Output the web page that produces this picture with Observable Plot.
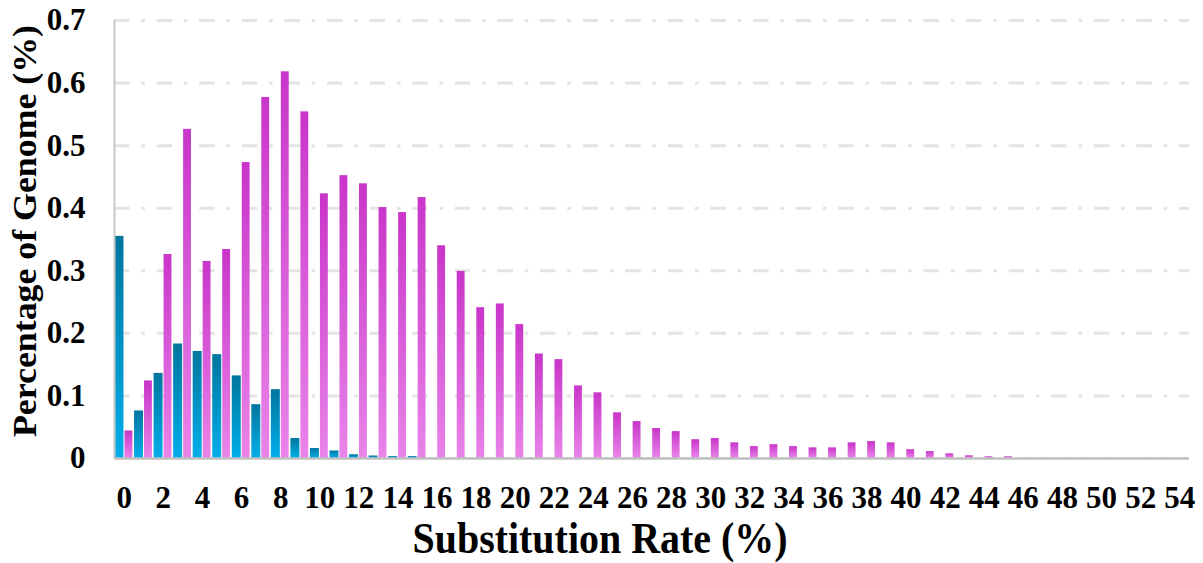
<!DOCTYPE html>
<html><head><meta charset="utf-8">
<script src="https://cdn.jsdelivr.net/npm/d3@7"></script>
<script src="https://cdn.jsdelivr.net/npm/@observablehq/plot@0.6"></script>
<style>body{margin:0;background:#fff;}</style>
</head><body><div id="chart"></div>
<script>
// Categories: substitution rate (%)
const rates = [0,1,2,3,4,5,6,7,8,9,10,11,12,13,14,15,16,17,18,19,20,21,22,23,24,25,26,27,28,29,30,31,32,33,34,35,36,37,38,39,40,41,42,43,44,45,46,47,48,49,50,51,52,53,54];
// Blue series (left bar in each group)
const blueValues = [0.355,0.076,0.136,0.183,0.171,0.166,0.132,0.086,0.110,0.032,0.016,0.012,0.006,0.004,0.003,0.003,0.0003,0.0003,0.0003,0.0003,0.0003,0.0003,0.0003,0.0003,0.0003,0.0003,0.0003,0.0003,0.0003,0.0003,0.0003,0.0003,0,0,0,0,0,0,0,0,0,0,0,0,0,0,0,0,0,0,0,0,0,0,0];
// Magenta series (right bar in each group)
const magentaValues = [0.044,0.124,0.326,0.526,0.315,0.334,0.473,0.577,0.618,0.554,0.423,0.452,0.439,0.401,0.393,0.417,0.340,0.299,0.241,0.247,0.214,0.167,0.158,0.116,0.105,0.073,0.059,0.048,0.043,0.030,0.032,0.025,0.019,0.022,0.019,0.017,0.017,0.025,0.027,0.025,0.014,0.011,0.0075,0.0043,0.0027,0.0027,0.0005,0.0005,0.0005,0.0005,0.0005,0,0.0005,0.0005,0.0005];
// Tick labels
const xTicks = [0,2,4,6,8,10,12,14,16,18,20,22,24,26,28,30,32,34,36,38,40,42,44,46,48,50,52,54];
const yTicks = [0,0.1,0.2,0.3,0.4,0.5,0.6,0.7];
const yTickLabels = ["0","0.1","0.2","0.3","0.4","0.5","0.6","0.7"];
const xTitle = "Substitution Rate (%)";
const yTitle = "Percentage of Genome (%)";

const blueData = rates.map((r, i) => ({rate: r, value: blueValues[i]}));
const magentaData = rates.map((r, i) => ({rate: r, value: magentaValues[i]}));

const chart = Plot.plot({
  width: 1203,
  height: 563,
  marginLeft: 114,
  marginRight: 14,
  marginTop: 20,
  marginBottom: 105,
  style: {fontFamily: "'Liberation Serif','Times New Roman',serif", fontSize: "31px", fontWeight: "bold", color: "#000", background: "#fff"},
  x: {domain: [-0.5, 54.5], ticks: xTicks, tickFormat: d => String(d), tickSize: 0, tickPadding: 27, label: null},
  y: {domain: [0, 0.7], ticks: yTicks, tickFormat: d => { const k = yTicks.findIndex(t => Math.abs(t - d) < 1e-9); return k >= 0 ? yTickLabels[k] : String(d); }, tickSize: 0, tickPadding: 29, label: null},
  marks: [
    Plot.ruleY(yTicks.filter(d => d > 0), {stroke: "#e4e4e4", strokeWidth: 3, strokeDasharray: "15.5,11.7,3.7,11.7"}),
    Plot.rectY(blueData, {x1: d => d.rate - 0.5, x2: d => d.rate, y1: 0, y2: "value", fill: "url(#gradBlue)", insetLeft: 0.5, insetRight: 0.3}),
    Plot.rectY(magentaData, {x1: d => d.rate, x2: d => d.rate + 0.5, y1: 0, y2: "value", fill: "url(#gradMagenta)", insetLeft: 0.7, insetRight: 1.2}),
    Plot.ruleX([-0.5], {stroke: "#c8c8c8", strokeWidth: 2}),
    Plot.ruleY([0], {stroke: "#bfbfbf", strokeWidth: 2.5})
  ]
});

const svg = d3.select(chart);
const defs = svg.insert("defs", ":first-child");
function grad(id, top, bottom) {
  const g = defs.append("linearGradient").attr("id", id).attr("x1", 0).attr("y1", 0).attr("x2", 0).attr("y2", 1);
  g.append("stop").attr("offset", "0%").attr("stop-color", top);
  g.append("stop").attr("offset", "100%").attr("stop-color", bottom);
}
grad("gradBlue", "#00769e", "#00aeea");
grad("gradMagenta", "#c935c9", "#e984e9");

svg.append("text")
  .attr("x", 600).attr("y", 553)
  .attr("text-anchor", "middle")
  .attr("font-size", 44).attr("font-weight", "bold")
  .attr("fill", "#000")
  .attr("textLength", 375).attr("lengthAdjust", "spacingAndGlyphs")
  .text(xTitle);

svg.append("text")
  .attr("transform", "translate(36,231) rotate(-90)")
  .attr("text-anchor", "middle")
  .attr("font-size", 34).attr("font-weight", "bold")
  .attr("fill", "#000")
  .attr("textLength", 412).attr("lengthAdjust", "spacingAndGlyphs")
  .text(yTitle);

document.getElementById("chart").appendChild(chart);
</script>
</body></html>
